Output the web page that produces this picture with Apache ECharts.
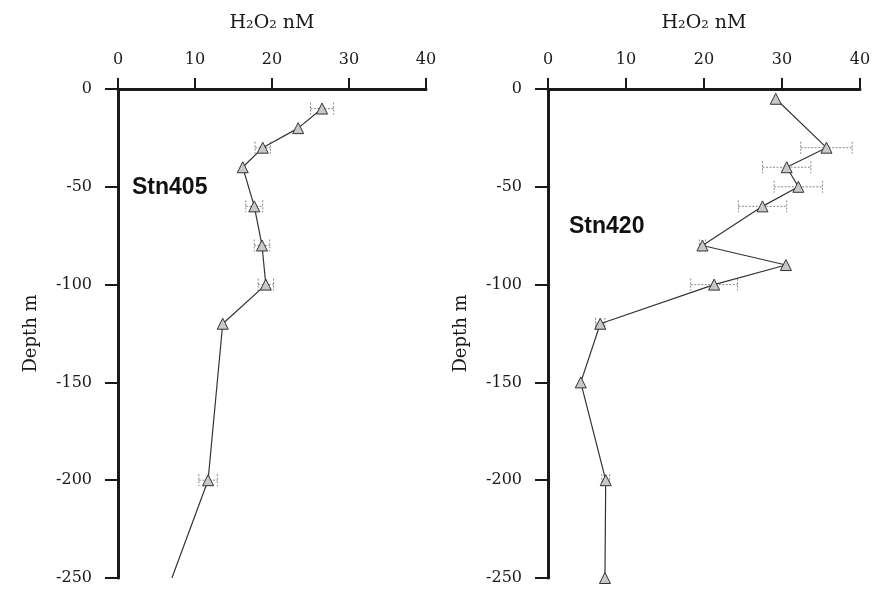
<!DOCTYPE html>
<html>
<head>
<meta charset="utf-8">
<script src="https://cdn.jsdelivr.net/npm/echarts@6/dist/echarts.min.js"></script>
<style>
  html, body { margin: 0; padding: 0; background: #fff; }
  #chart { width: 875px; height: 589px; }
</style>
</head>
<body>
<div id="chart"></div>
<script>
// Station 405 profile: depth (m), H2O2 (nM), and error half-widths
const depth405 = [-10, -20, -30, -40, -60, -80, -100, -120, -200, -250];
const h2o2_405 = [26.5, 23.4, 18.8, 16.2, 17.7, 18.7, 19.2, 13.6, 11.7, 7.0];
const err405   = [1.5, 0, 1.0, 0, 1.1, 1.0, 1.0, 0, 1.2, 0];
const marked405 = [true, true, true, true, true, true, true, true, true, false];

// Station 420 profile
const depth420 = [-5, -30, -40, -50, -60, -80, -90, -100, -120, -150, -200, -250];
const h2o2_420 = [29.2, 35.7, 30.6, 32.1, 27.5, 19.8, 30.5, 21.3, 6.7, 4.2, 7.4, 7.3];
const err420   = [0, 3.3, 3.1, 3.1, 3.1, 0.4, 0, 3.0, 0.6, 0, 0.5, 0];
const marked420 = depth420.map(() => true);

const stations = ['Stn405', 'Stn420'];
const xTicks = [0, 10, 20, 30, 40];
const yTicks = [0, -50, -100, -150, -200, -250];

const serif = 'DejaVu Serif';
const ink = '#1a1a1a';

function xAxisFor(idx) {
  return {
    gridIndex: idx, type: 'value', position: 'top',
    min: xTicks[0], max: xTicks[xTicks.length - 1], interval: xTicks[1] - xTicks[0],
    name: 'H\u2082O\u2082 nM', nameLocation: 'middle', nameGap: 56,
    nameTextStyle: { fontFamily: serif, fontSize: 19, color: ink },
    axisLine: { show: true, lineStyle: { color: ink, width: 3 } },
    axisTick: { show: true, inside: false, length: 11, lineStyle: { color: ink, width: 2 } },
    axisLabel: { fontFamily: serif, fontSize: 16, color: ink, margin: 21 },
    splitLine: { show: false }
  };
}
function yAxisFor(idx) {
  return {
    gridIndex: idx, type: 'value',
    min: yTicks[yTicks.length - 1], max: yTicks[0], interval: 50,
    name: 'Depth m', nameLocation: 'middle', nameGap: 78,
    nameTextStyle: { fontFamily: serif, fontSize: 18, color: ink },
    axisLine: { show: true, onZero: false, lineStyle: { color: ink, width: 3 } },
    axisTick: { show: true, inside: false, length: 13, lineStyle: { color: ink, width: 2 } },
    axisLabel: { fontFamily: serif, fontSize: 16, color: ink, margin: 26 },
    splitLine: { show: false }
  };
}

function profileSeries(idx, xs, ys, marked) {
  return {
    type: 'line', xAxisIndex: idx, yAxisIndex: idx,
    data: xs.map((v, i) => ({ value: [v, ys[i]], symbolSize: marked[i] ? 11 : 0 })),
    symbol: 'triangle',
    lineStyle: { color: '#333', width: 1.2 },
    itemStyle: { color: '#c8c8c8', borderColor: '#333', borderWidth: 1 },
    z: 3
  };
}

function errorSeries(idx, xs, ys, errs) {
  const data = [];
  xs.forEach((v, i) => { if (errs[i] > 0) data.push([v - errs[i], v + errs[i], ys[i]]); });
  return {
    type: 'custom', xAxisIndex: idx, yAxisIndex: idx, data: data, z: 2,
    renderItem: function (params, api) {
      const lo = api.coord([api.value(0), api.value(2)]);
      const hi = api.coord([api.value(1), api.value(2)]);
      const cap = 6;
      const style = { stroke: '#888', lineWidth: 1, lineDash: [2, 1.5] };
      return {
        type: 'group',
        children: [
          { type: 'line', shape: { x1: lo[0], y1: lo[1], x2: hi[0], y2: hi[1] }, style: style },
          { type: 'line', shape: { x1: lo[0], y1: lo[1] - cap, x2: lo[0], y2: lo[1] + cap }, style: style },
          { type: 'line', shape: { x1: hi[0], y1: hi[1] - cap, x2: hi[0], y2: hi[1] + cap }, style: style }
        ]
      };
    }
  };
}

const chart = echarts.init(document.getElementById('chart'), null, { renderer: 'canvas' });
chart.setOption({
  backgroundColor: '#fff',
  animation: false,
  grid: [
    { left: 118, top: 89, width: 308, height: 489 },
    { left: 548, top: 89, width: 312, height: 489 }
  ],
  xAxis: [xAxisFor(0), xAxisFor(1)],
  yAxis: [yAxisFor(0), yAxisFor(1)],
  graphic: [
    { type: 'text', left: 132, top: 176,
      style: { text: stations[0], font: 'bold 23px "Liberation Sans", Arial, sans-serif', fill: '#111' } },
    { type: 'text', left: 569, top: 215,
      style: { text: stations[1], font: 'bold 23px "Liberation Sans", Arial, sans-serif', fill: '#111' } }
  ],
  series: [
    errorSeries(0, h2o2_405, depth405, err405),
    profileSeries(0, h2o2_405, depth405, marked405),
    errorSeries(1, h2o2_420, depth420, err420),
    profileSeries(1, h2o2_420, depth420, marked420)
  ]
});
</script>
</body>
</html>
